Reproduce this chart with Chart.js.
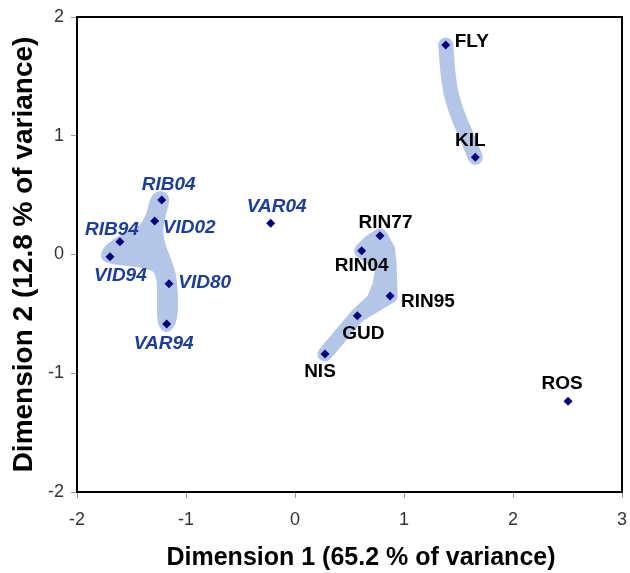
<!DOCTYPE html>
<html><head><meta charset="utf-8">
<script src="https://cdn.jsdelivr.net/npm/chart.js@4"></script>
<style>html,body{margin:0;padding:0;background:#fff}</style>
</head><body>
<canvas id="c" width="630" height="573" style="width:630px;height:573px;display:block"></canvas>
<script>
// ---- data ----
const names = ['FLY','KIL','RIN77','RIN04','RIN95','GUD','NIS','ROS','VAR04','RIB04','VID02','RIB94','VID94','VID80','VAR94'];
const dim1  = [1.383, 1.654, 0.780, 0.612, 0.872, 0.572, 0.275, 2.505, -0.223, -1.223, -1.287, -1.606, -1.697, -1.156, -1.177];
const dim2  = [1.764, 0.819, 0.158, 0.032, -0.349, -0.515, -0.838, -1.235, 0.263, 0.459, 0.282, 0.108, -0.019, -0.246, -0.585];
const blueGroup = ['VAR04','RIB04','VID02','RIB94','VID94','VID80','VAR94'];
const xTicks = [-2, -1, 0, 1, 2, 3];
const yTicks = [-2, -1, 0, 1, 2];
const xTitle = 'Dimension 1 (65.2 % of variance)';
const yTitle = 'Dimension 2 (12.8 % of variance)';

// shaded group outlines (data units)
const hullFlyKil = [[1.383,1.764],[1.405,1.45],[1.470,1.22],[1.560,1.03],[1.654,0.819]];
const hullRin = [[0.612,0.032],[0.700,0.110],[0.780,0.158],[0.850,0.040],[0.862,-0.063],[0.872,-0.349],[0.572,-0.515],[0.275,-0.838],[0.572,-0.515],[0.725,-0.383],[0.780,-0.257],[0.807,-0.114],[0.700,-0.030]];
const hullWest = [[-1.223,0.515],[-1.172,0.473],[-1.208,0.347],[-1.239,0.234],[-1.232,0.122],[-1.177,-0.019],[-1.117,-0.158],[-1.101,-0.327],[-1.101,-0.552],[-1.177,-0.650],[-1.239,-0.579],[-1.239,-0.383],[-1.239,-0.215],[-1.269,-0.131],[-1.330,-0.103],[-1.483,-0.074],[-1.667,-0.061],[-1.759,-0.032],[-1.743,0.038],[-1.651,0.108],[-1.514,0.179],[-1.392,0.234],[-1.330,0.347],[-1.300,0.487]];

// ---- label placement (pixel offsets from the marker) ----
const labelPlace = {
  FLY:[9,-3.5,'left'], KIL:[-5,-16,'center'], RIN77:[5.5,-13,'center'], RIN04:[0,14.6,'center'],
  RIN95:[11,5.7,'left'], GUD:[6,18,'center'], NIS:[-5,17.7,'center'], ROS:[-6,-17.7,'center'],
  VAR04:[6,-16.6,'center'], RIB04:[7,-15.5,'center'], VID02:[8,7,'left'], RIB94:[-8,-11.7,'center'],
  VID94:[10.3,18.8,'center'], VID80:[9.3,-1,'left'], VAR94:[-3,20,'center']
};

const points = names.map((n,i)=>({x:dim1[i], y:dim2[i], name:n}));
const hulls = [
  {path:hullFlyKil, closed:false, smooth:true, width:15},
  {path:hullRin, closed:true, smooth:false, width:15},
  {path:hullWest, closed:true, smooth:true, width:6}
];
const HULL_COLOR = '#b4c6e7';
const FONT = "'Liberation Sans', Arial, sans-serif";

const hullPlugin = {
  id:'hulls',
  beforeDatasetsDraw(chart){
    const {ctx, scales:{x, y}} = chart;
    ctx.save();
    ctx.fillStyle = HULL_COLOR; ctx.strokeStyle = HULL_COLOR;
    ctx.lineJoin = 'round'; ctx.lineCap = 'round';
    hulls.forEach(h=>{
      const pts = h.path.map(p=>[x.getPixelForValue(p[0]), y.getPixelForValue(p[1])]);
      const n = pts.length;
      const mid = (a,b)=>[(a[0]+b[0])/2,(a[1]+b[1])/2];
      ctx.beginPath();
      if(h.closed && h.smooth){
        const s = mid(pts[n-1], pts[0]);
        ctx.moveTo(s[0], s[1]);
        for(let i=0;i<n;i++){
          const m = mid(pts[i], pts[(i+1)%n]);
          ctx.quadraticCurveTo(pts[i][0], pts[i][1], m[0], m[1]);
        }
        ctx.closePath(); ctx.fill();
      } else if(h.closed){
        pts.forEach((p,i)=>{ if(i===0) ctx.moveTo(p[0],p[1]); else ctx.lineTo(p[0],p[1]); });
        ctx.closePath(); ctx.fill();
      } else {
        ctx.moveTo(pts[0][0], pts[0][1]);
        for(let i=1;i<n-1;i++){
          const m = mid(pts[i], pts[i+1]);
          ctx.quadraticCurveTo(pts[i][0], pts[i][1], m[0], m[1]);
        }
        ctx.lineTo(pts[n-1][0], pts[n-1][1]);
      }
      ctx.lineWidth = h.width; ctx.stroke();
    });
    ctx.restore();
  }
};

const framePlugin = {
  id:'frame',
  afterDatasetsDraw(chart){
    const {ctx, chartArea:a} = chart;
    ctx.save();
    ctx.strokeStyle = '#000'; ctx.lineWidth = 2;
    ctx.strokeRect(a.left, a.top, a.right-a.left, a.bottom-a.top);
    // x axis title
    ctx.fillStyle = '#000';
    ctx.font = 'bold 25px ' + FONT;
    ctx.textAlign = 'center'; ctx.textBaseline = 'middle';
    ctx.fillText(xTitle, (a.left+a.right)/2 + 11.5, a.bottom + 66);
    ctx.restore();
  }
};

const labelPlugin = {
  id:'ptlabels',
  afterDatasetsDraw(chart){
    const {ctx, scales:{x, y}} = chart;
    ctx.save();
    ctx.textBaseline = 'middle';
    points.forEach(p=>{
      const blue = blueGroup.includes(p.name);
      const pl = labelPlace[p.name];
      ctx.font = (blue ? 'italic bold ' : 'bold ') + '19px ' + FONT;
      ctx.fillStyle = blue ? '#1b3d9d' : '#000';
      ctx.textAlign = pl[2];
      ctx.fillText(p.name, x.getPixelForValue(p.x)+pl[0], y.getPixelForValue(p.y)+pl[1]);
    });
    ctx.restore();
  }
};

new Chart(document.getElementById('c'), {
  type:'scatter',
  data:{ datasets:[{
    data: points,
    pointStyle:'rectRot', pointRadius:4.5, pointHoverRadius:4.5,
    backgroundColor:'#000080', borderColor:'#000080', borderWidth:0
  }]},
  options:{
    responsive:false, animation:false, devicePixelRatio:1,
    layout:{padding:{left:0, right:8, top:17, bottom:0}},
    plugins:{legend:{display:false}, tooltip:{enabled:false}},
    scales:{
      x:{
        type:'linear', min:-2, max:3,
        afterBuildTicks(s){ s.ticks = xTicks.map(v=>({value:v})); },
        afterFit(s){ s.height = 81; s.paddingLeft = 0; s.paddingRight = 0; },
        ticks:{font:{family:FONT, size:18}, color:'#333', padding:11},
        grid:{drawOnChartArea:false, drawTicks:true, tickLength:6, color:'#999'},
        border:{display:false},
        title:{display:false}
      },
      y:{
        type:'linear', min:-2, max:2,
        afterBuildTicks(s){ s.ticks = yTicks.map(v=>({value:v})); },
        afterFit(s){ s.width = 77; s.paddingTop = 0; s.paddingBottom = 0; },
        ticks:{font:{family:FONT, size:18}, color:'#333', padding:7},
        grid:{drawOnChartArea:false, drawTicks:true, tickLength:6, color:'#999'},
        border:{display:false},
        title:{display:true, text:yTitle, color:'#000', font:{family:FONT, size:28, weight:'bold'}, padding:{top:7,bottom:0}}
      }
    }
  },
  plugins:[hullPlugin, framePlugin, labelPlugin]
});
</script>
</body></html>
